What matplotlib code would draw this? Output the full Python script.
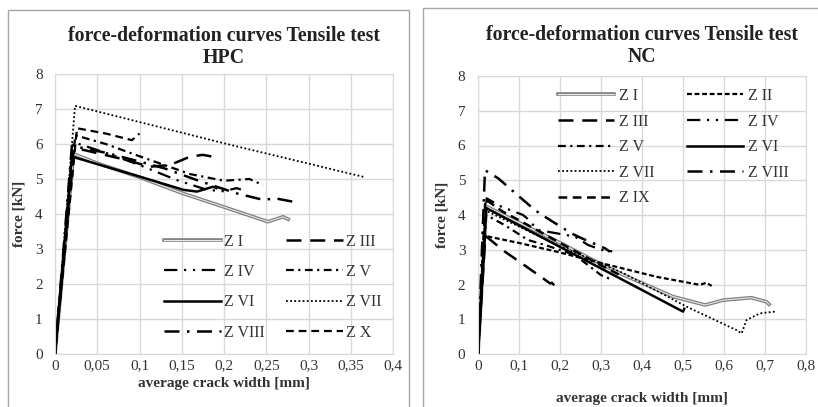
import matplotlib
matplotlib.use("Agg")
import matplotlib.pyplot as plt
import matplotlib.patheffects as pe
from matplotlib.patches import Rectangle
from matplotlib.ticker import FuncFormatter, MultipleLocator

plt.rcParams['font.family'] = ['Liberation Serif', 'DejaVu Serif']

# ---------------- HPC data ----------------
hpc_labels = ["Z I", "Z III", "Z IV", "Z V", "Z VI", "Z VII", "Z VIII", "Z X"]
hpc_x = {
    "Z I":    [0, 0.022, 0.05, 0.1, 0.15, 0.2, 0.252, 0.27, 0.276],
    "Z III":  [0, 0.022, 0.034, 0.085, 0.112, 0.136, 0.16, 0.175, 0.195],
    "Z IV":   [0, 0.022, 0.06, 0.1, 0.144, 0.18, 0.2, 0.215, 0.22],
    "Z V":    [0, 0.024, 0.06, 0.1, 0.16, 0.2, 0.23, 0.246],
    "Z VI":   [0, 0.02, 0.1, 0.152, 0.168, 0.187, 0.191],
    "Z VII":  [0, 0.0237, 0.2, 0.367],
    "Z VIII": [0, 0.02, 0.06, 0.1, 0.13, 0.17, 0.215, 0.247, 0.26, 0.282],
    "Z X":    [0, 0.026, 0.06, 0.091, 0.1],
}
hpc_y = {
    "Z I":    [0, 5.72, 5.45, 5.05, 4.6, 4.2, 3.78, 3.92, 3.85],
    "Z III":  [0, 5.85, 5.83, 5.54, 5.35, 5.4, 5.64, 5.69, 5.6],
    "Z IV":   [0, 6.05, 5.75, 5.4, 4.97, 4.69, 4.65, 4.74, 4.7],
    "Z V":    [0, 6.25, 6.0, 5.65, 5.14, 4.95, 5.0, 4.83],
    "Z VI":   [0, 5.64, 5.07, 4.69, 4.64, 4.78, 4.74],
    "Z VII":  [0, 7.09, 6.02, 5.05],
    "Z VIII": [0, 5.95, 5.75, 5.5, 5.3, 4.95, 4.59, 4.4, 4.45, 4.35],
    "Z X":    [0, 6.45, 6.3, 6.11, 6.3],
}

# ---------------- NC data ----------------
nc_labels = ["Z I", "Z II", "Z III", "Z IV", "Z V", "Z VI", "Z VII", "Z VIII", "Z IX"]
nc_x = {
    "Z I":    [0, 0.02, 0.1, 0.2, 0.273, 0.35, 0.476, 0.554, 0.598, 0.667, 0.704, 0.71],
    "Z II":   [0, 0.017, 0.102, 0.19, 0.306, 0.436, 0.541, 0.557, 0.57],
    "Z III":  [0, 0.018, 0.065, 0.098, 0.15, 0.176, 0.18, 0.186],
    "Z IV":   [0, 0.021, 0.057, 0.11, 0.12, 0.146, 0.236, 0.268, 0.3, 0.33],
    "Z V":    [0, 0.02, 0.065, 0.122, 0.163, 0.236, 0.3, 0.32],
    "Z VI":   [0, 0.02, 0.273, 0.5, 0.503],
    "Z VII":  [0, 0.02, 0.2, 0.354, 0.509, 0.63, 0.643, 0.655, 0.688, 0.724],
    "Z VIII": [0, 0.017, 0.05, 0.082, 0.139, 0.163, 0.228, 0.253, 0.31, 0.322],
    "Z IX":   [0, 0.018, 0.06, 0.1, 0.2, 0.3, 0.35],
}
nc_y = {
    "Z I":    [0, 4.25, 3.78, 3.2, 2.75, 2.3, 1.65, 1.41, 1.55, 1.62, 1.5, 1.43],
    "Z II":   [0, 3.4, 3.19, 2.95, 2.6, 2.22, 1.99, 2.05, 1.96],
    "Z III":  [0, 3.4, 2.95, 2.68, 2.25, 2.03, 2.05, 1.98],
    "Z IV":   [0, 4.48, 4.24, 4.0, 3.9, 3.57, 3.38, 3.14, 3.0, 2.95],
    "Z V":    [0, 4.0, 3.71, 3.28, 3.14, 2.85, 2.27, 2.17],
    "Z VI":   [0, 4.2, 2.63, 1.22, 1.3],
    "Z VII":  [0, 4.12, 3.1, 2.33, 1.36, 0.69, 0.59, 0.98, 1.17, 1.22],
    "Z VIII": [0, 5.29, 5.05, 4.72, 4.14, 3.95, 3.47, 3.33, 3.04, 2.94],
    "Z IX":   [0, 4.45, 4.1, 3.85, 3.2, 2.55, 2.25],
}

# ---------------- styles ----------------
double_fx = [pe.Stroke(linewidth=2.6, foreground='#7f7f7f'), pe.Stroke(linewidth=0.8, foreground='#e8e8e8')]
styles = {
    "Z I":    dict(color='#7f7f7f', lw=2.6, ls='-', path_effects=double_fx),
    "Z II":   dict(color='black', lw=1.6, ls=(0, (2.2, 1.2))),
    "Z III":  dict(color='black', lw=1.8, ls=(0, (6, 3.5))),
    "Z IV":   dict(color='black', lw=1.6, ls=(0, (6, 3, 1, 3, 1, 3))),
    "Z V":    dict(color='black', lw=1.6, ls=(0, (3.5, 2, 1, 2))),
    "Z VI":   dict(color='black', lw=1.8, ls='-'),
    "Z VII":  dict(color='black', lw=1.3, ls=(0, (1, 1.3))),
    "Z VIII": dict(color='black', lw=1.8, ls=(0, (6, 3, 1, 3))),
    "Z IX":   dict(color='black', lw=1.8, ls=(0, (3.5, 2.2))),
    "Z X":    dict(color='black', lw=1.6, ls=(0, (3.5, 2.2))),
}

W, H = 818, 407
fig = plt.figure(figsize=(W / 100, H / 100), dpi=100)


def px_rect(x0, y0, x1, y1):
    return [x0 / W, 1 - y1 / H, (x1 - x0) / W, (y1 - y0) / H]


# outer chart frames
for (x0, y0, x1, y1) in [(8, 10, 409, 412), (423, 8, 822, 412)]:
    fig.patches.append(Rectangle((x0 / W, 1 - y1 / H), (x1 - x0) / W, (y1 - y0) / H,
                                 transform=fig.transFigure, fill=False,
                                 edgecolor='#a6a6a6', lw=1.0))

comma = FuncFormatter(lambda v, p: ('%g' % round(v, 4)).replace('.', ','))


def setup(ax, xmax, xstep, xlabelpad):
    ax.set_xlim(0, xmax)
    ax.set_ylim(0, 8)
    ax.xaxis.set_major_locator(MultipleLocator(xstep))
    ax.yaxis.set_major_locator(MultipleLocator(1))
    ax.xaxis.set_major_formatter(comma)
    ax.grid(True, color='#d9d9d9', lw=1.0)
    ax.set_axisbelow(True)
    for s in ax.spines.values():
        s.set_color('#d9d9d9')
    ax.tick_params(axis='x', length=0, labelsize=11, colors='#333333', pad=4)
    ax.tick_params(axis='y', length=0, labelsize=11, colors='#333333', pad=9)
    ax.set_xlabel('average crack width [mm]', fontsize=11, fontweight='bold',
                  color='#333333', labelpad=xlabelpad)
    ax.set_ylabel('force [kN]', fontsize=11, fontweight='bold', color='#333333', labelpad=7)


def rowmajor(handles, labels, ncol=2):
    hs, ls = [], []
    for c in range(ncol):
        hs += handles[c::ncol]
        ls += labels[c::ncol]
    return hs, ls


# ---------------- HPC ----------------
ax1 = fig.add_axes(px_rect(55, 74, 393, 354))
setup(ax1, 0.4, 0.05, 3)
for lab in hpc_labels:
    ax1.plot(hpc_x[lab], hpc_y[lab], label=lab, **styles[lab])
ax1.set_title('force-deformation curves Tensile test\nHPC', fontsize=14.3,
              fontweight='bold', color='#222222', pad=8, linespacing=1.15)
h, l = rowmajor(*ax1.get_legend_handles_labels())
leg1 = ax1.legend(h, l, ncol=2, loc='upper left', bbox_to_anchor=(0.322, 0.43), frameon=False,
                  fontsize=11.5, handlelength=3.55, handletextpad=0.2, columnspacing=1.35,
                  labelspacing=0.9, borderaxespad=0, borderpad=0)
for t in leg1.get_texts():
    t.set_color('#333333')

# ---------------- NC ----------------
ax2 = fig.add_axes(px_rect(478, 76, 806, 354))
setup(ax2, 0.8, 0.1, 14)
for lab in nc_labels:
    ax2.plot(nc_x[lab], nc_y[lab], label=lab, **styles[lab])
ax2.set_title('force-deformation curves Tensile test\nNC', fontsize=14.3,
              fontweight='bold', color='#222222', pad=10, linespacing=1.15)
h, l = rowmajor(*ax2.get_legend_handles_labels())
leg2 = ax2.legend(h, l, ncol=2, loc='upper left', bbox_to_anchor=(0.243, 0.957), frameon=False,
                  fontsize=11.5, handlelength=3.55, handletextpad=0.3, columnspacing=2.0,
                  labelspacing=0.6, borderaxespad=0, borderpad=0)
for t in leg2.get_texts():
    t.set_color('#333333')

fig.savefig('out.png', dpi=100)
